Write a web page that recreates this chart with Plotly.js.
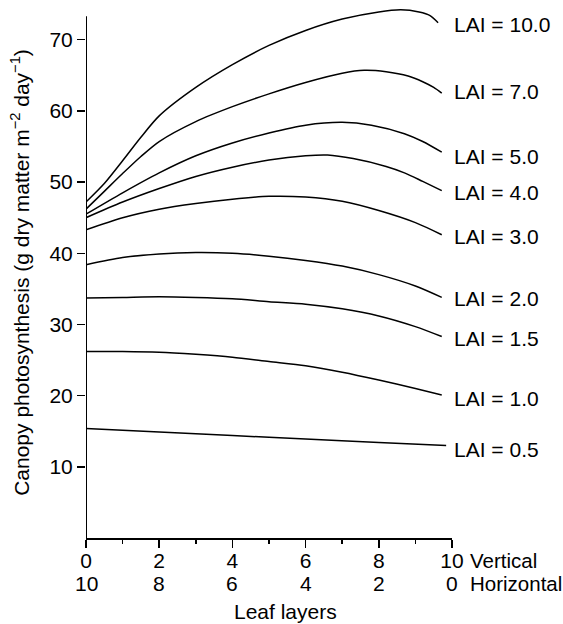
<!DOCTYPE html>
<html>
<head>
<meta charset="utf-8">
<script src="https://cdn.plot.ly/plotly-3.0.1.min.js"></script>
<style>html,body{margin:0;padding:0;background:#fff;}#chart{width:563px;height:624px;}</style>
</head>
<body>
<div id="chart"></div>
<script>
// ---- data ----
const lai10X = [0, 0.5, 1, 1.5, 2, 3, 4, 5, 6, 7, 8, 8.6, 9.1, 9.4, 9.62];
const lai10Y = [47.2, 49.8, 53.0, 56.3, 59.3, 63.3, 66.5, 69.2, 71.3, 72.9, 73.9, 74.2, 73.9, 73.4, 72.4];

const lai7X = [0, 0.5, 1, 1.5, 2, 3, 4, 5, 6, 7, 7.6, 8.2, 8.8, 9.2, 9.5, 9.72];
const lai7Y = [46.2, 48.7, 51.2, 53.6, 55.7, 58.5, 60.6, 62.4, 64.0, 65.3, 65.7, 65.5, 64.9, 64.1, 63.3, 62.5];

const lai5X = [0, 1, 2, 3, 4, 5, 6, 7, 7.8, 8.7, 9.2, 9.72];
const lai5Y = [45.5, 48.5, 51.3, 53.7, 55.5, 56.9, 58.0, 58.4, 58.0, 56.8, 55.7, 54.2];

const lai4X = [0, 1, 2, 3, 4, 5, 6, 6.6, 7.3, 8.2, 8.7, 9.2, 9.72];
const lai4Y = [45.0, 47.2, 49.1, 50.8, 52.1, 53.1, 53.7, 53.8, 53.3, 52.2, 51.3, 50.1, 48.8];

const layersX = [0, 1, 2, 3, 4, 5, 6, 7, 8, 9, 9.72];
const lai3Y  = [43.3, 45.0, 46.2, 47.0, 47.6, 48.0, 47.9, 47.3, 46.0, 44.3, 42.6];
const lai2Y  = [38.4, 39.4, 39.9, 40.1, 40.0, 39.6, 39.0, 38.2, 37.0, 35.4, 33.8];
const lai15Y = [33.7, 33.8, 33.9, 33.8, 33.6, 33.2, 32.85, 32.2, 31.2, 29.7, 28.3];
const lai1Y  = [26.2, 26.2, 26.1, 25.8, 25.4, 24.8, 24.2, 23.3, 22.2, 21.0, 20.1];

const lai05X = [0, 2, 4, 6, 8, 9.84];
const lai05Y = [15.4, 14.9, 14.4, 13.9, 13.4, 13.0];

const labelText = ['LAI = 10.0', 'LAI = 7.0', 'LAI = 5.0', 'LAI = 4.0', 'LAI = 3.0', 'LAI = 2.0', 'LAI = 1.5', 'LAI = 1.0', 'LAI = 0.5'];
const labelY = [72.1, 62.7, 53.6, 48.5, 42.3, 33.7, 28.0, 19.6, 12.5];

const tickVals = [0, 2, 4, 6, 8, 10];
const verticalTicks = ['0', '2', '4', '6', '8', '10'];
const horizontalTicks = ['10', '8', '6', '4', '2', '0'];
const minorVals = [1, 3, 5, 7, 9];
const yTickVals = [10, 20, 30, 40, 50, 60, 70];
const yAxisTop = 73.3;

// ---- chart ----
const FONT = 'Liberation Sans, Arial, Helvetica, sans-serif';
const series = [
  [lai10X, lai10Y], [lai7X, lai7Y], [lai5X, lai5Y], [lai4X, lai4Y],
  [layersX, lai3Y], [layersX, lai2Y], [layersX, lai15Y], [layersX, lai1Y],
  [lai05X, lai05Y]
];
const traces = series.map((s, i) => ({
  x: s[0], y: s[1], type: 'scatter', mode: 'lines',
  name: labelText[i],
  line: {color: '#000', width: 1.5, shape: 'spline', smoothing: 0.8},
  hoverinfo: 'skip', showlegend: false
}));

const f = (sz) => ({family: FONT, size: sz, color: '#000'});
const annotations = labelText.map((t, i) => ({
  text: t, x: 10, y: labelY[i], xref: 'x', yref: 'y',
  xanchor: 'left', yanchor: 'middle', showarrow: false, font: f(21)
}));
// second row of x tick labels (horizontal leaf layers)
tickVals.forEach((v, i) => annotations.push({
  text: horizontalTicks[i], x: v, xref: 'x', yref: 'paper', y: -0.0866,
  xanchor: 'center', yanchor: 'middle', showarrow: false, font: f(21)
}));
annotations.push(
  {text: 'Vertical', x: 10, xshift: 16, xref: 'x', yref: 'paper', y: -0.0433, xanchor: 'left', yanchor: 'middle', showarrow: false, font: f(20.5)},
  {text: 'Horizontal', x: 10, xshift: 16, xref: 'x', yref: 'paper', y: -0.0866, xanchor: 'left', yanchor: 'middle', showarrow: false, font: f(20.5)},
  {text: 'Leaf layers', x: 5.44, xref: 'x', yref: 'paper', y: -0.139, xanchor: 'center', yanchor: 'middle', showarrow: false, font: f(21)}
);

const layout = {
  width: 563, height: 624,
  margin: {l: 86, r: 111, t: 7, b: 86, pad: 0},
  paper_bgcolor: '#fff', plot_bgcolor: '#fff',
  font: f(21),
  showlegend: false,
  xaxis: {
    range: [0, 10], showgrid: false, zeroline: false,
    showline: true, linecolor: '#000', linewidth: 2,
    tickmode: 'array', tickvals: tickVals, ticktext: verticalTicks,
    ticks: 'outside', ticklen: 8, tickwidth: 1.5, tickcolor: '#000',
    ticklabelstandoff: -5,
    minor: {tickmode: 'array', tickvals: minorVals, ticks: 'outside', ticklen: 4, tickwidth: 1.5, tickcolor: '#000'},
    tickfont: f(21),
    fixedrange: true
  },
  yaxis: {
    range: [0, 74.6], showgrid: false, zeroline: false, showline: false,
    tickmode: 'array', tickvals: yTickVals,
    ticks: 'outside', ticklen: 8, tickwidth: 1.5, tickcolor: '#000',
    tickfont: f(21),
    title: {text: 'Canopy photosynthesis (g dry matter m<sup>\u22122</sup> day<sup>\u22121</sup>)', font: f(21), standoff: 14},
    fixedrange: true
  },
  shapes: [
    {type: 'line', xref: 'x', yref: 'y', x0: 0, x1: 0, y0: 0, y1: yAxisTop, line: {color: '#000', width: 2}}
  ],
  annotations: annotations
};

Plotly.newPlot('chart', traces, layout, {staticPlot: true, displayModeBar: false});
</script>
</body>
</html>
